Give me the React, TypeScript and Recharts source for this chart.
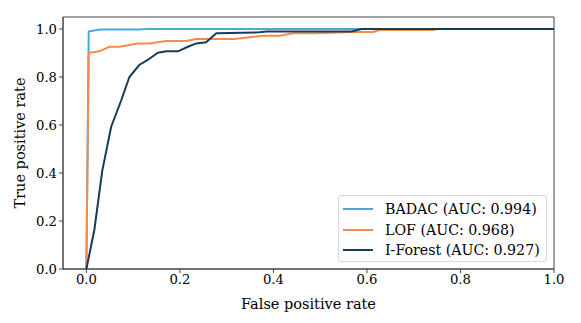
import { LineChart, Line, XAxis, YAxis, Legend, ReferenceArea } from 'recharts';

type Pt = { fpr: number; tpr: number };

const badacFpr = [0, 0.005, 0.028, 0.113, 0.13, 1.0];
const badacTpr = [0, 0.989, 0.998, 0.998, 1.0, 1.0];

const lofFpr = [0, 0.005, 0.028, 0.049, 0.071, 0.11, 0.135, 0.17, 0.213, 0.235, 0.317, 0.378, 0.413, 0.442, 0.49, 0.57, 0.613, 0.627, 0.742, 0.75, 1.0];
const lofTpr = [0, 0.901, 0.907, 0.926, 0.926, 0.94, 0.94, 0.95, 0.95, 0.958, 0.958, 0.972, 0.972, 0.982, 0.982, 0.9875, 0.9875, 0.996, 0.996, 1.0, 1.0];

const forestFpr = [0, 0.017, 0.034, 0.053, 0.074, 0.092, 0.113, 0.131, 0.153, 0.171, 0.196, 0.217, 0.235, 0.256, 0.278, 0.37, 0.385, 0.567, 0.588, 1.0];
const forestTpr = [0, 0.1625, 0.41, 0.593, 0.7, 0.8, 0.85, 0.871, 0.901, 0.907, 0.907, 0.926, 0.94, 0.945, 0.982, 0.986, 0.99, 0.99, 1.0, 1.0];

const ticks = [0, 0.2, 0.4, 0.6, 0.8, 1.0];

const series = [
  { name: 'BADAC (AUC: 0.994)', color: '#47abd8', fpr: badacFpr, tpr: badacTpr },
  { name: 'LOF (AUC: 0.968)', color: '#f58a4b', fpr: lofFpr, tpr: lofTpr },
  { name: 'I-Forest (AUC: 0.927)', color: '#143d59', fpr: forestFpr, tpr: forestTpr },
];

const toPts = (xs: number[], ys: number[]): Pt[] => xs.map((x, i) => ({ fpr: x, tpr: ys[i] }));

const FONT = '"DejaVu Serif", serif';

const LegendBox = () => (
  <div
    style={{
      position: 'absolute',
      left: 338,
      top: 195,
      width: 209,
      height: 67,
      border: '1px solid #d8d8d8',
      borderRadius: 3,
      background: 'rgba(255,255,255,0.8)',
      fontFamily: FONT,
      fontSize: 14.2,
      boxSizing: 'border-box',
      paddingTop: 3,
    }}
  >
    {series.map((s) => (
      <div key={s.name} style={{ display: 'flex', alignItems: 'center', height: 20.5 }}>
        <div style={{ width: 30, height: 2, background: s.color, marginLeft: 4, marginRight: 12 }} />
        <span style={{ whiteSpace: 'nowrap' }}>{s.name}</span>
      </div>
    ))}
  </div>
);

export default function App() {
  return (
    <div style={{ position: 'absolute', left: 0, top: 0, width: 581, height: 323, background: '#fff' }}>
      <LineChart width={581} height={323} margin={{ top: 17, right: 27, bottom: 14, left: 0 }}>
        <XAxis
          dataKey="fpr"
          type="number"
          domain={[-0.05, 1.0]}
          ticks={ticks}
          tickFormatter={(v: number) => v.toFixed(1)}
          allowDataOverflow
          height={40}
          tickSize={4}
          stroke="#444"
          tick={{ fill: '#000', fontSize: 13.2, fontFamily: FONT }}
          label={{ value: 'False positive rate', position: 'insideBottom', offset: 0, fill: '#000', fontSize: 14.5, fontFamily: FONT }}
        />
        <YAxis
          dataKey="tpr"
          type="number"
          domain={[0, 1.05]}
          ticks={ticks}
          tickFormatter={(v: number) => v.toFixed(1)}
          allowDataOverflow
          width={63}
          tickSize={4}
          stroke="#444"
          tick={{ fill: '#000', fontSize: 13.2, fontFamily: FONT }}
          label={{ value: 'True positive rate', angle: -90, position: 'insideLeft', offset: 20, style: { textAnchor: 'middle' }, fill: '#000', fontSize: 14.5, fontFamily: FONT }}
        />
        <ReferenceArea x1={-0.05} x2={1.0} y1={0} y2={1.05} fill="none" stroke="#444" strokeWidth={1} ifOverflow="visible" />
        {series.map((s) => (
          <Line
            key={s.name}
            data={toPts(s.fpr, s.tpr)}
            dataKey="tpr"
            name={s.name}
            type="linear"
            stroke={s.color}
            strokeWidth={2}
            dot={false}
            isAnimationActive={false}
          />
        ))}
        <Legend content={() => null} />
      </LineChart>
      <LegendBox />
    </div>
  );
}
